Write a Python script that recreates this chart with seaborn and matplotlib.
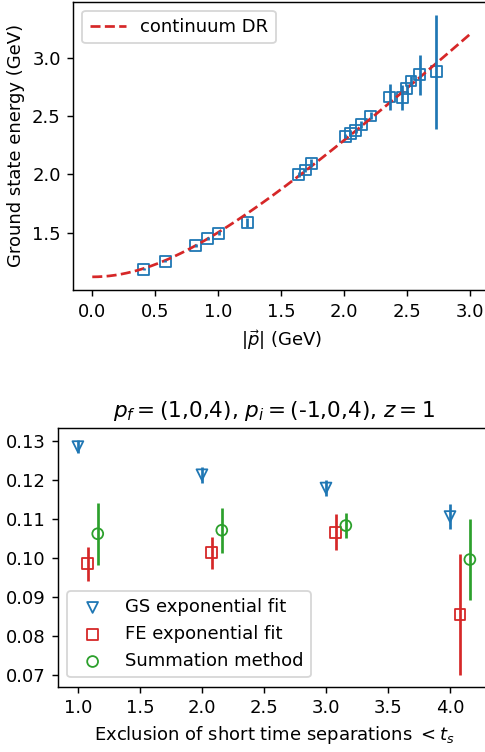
import numpy as np
import pandas as pd
import matplotlib
matplotlib.use("Agg")
import matplotlib.pyplot as plt
import seaborn as sns

# ---- ground-state energies vs. momentum ----
p_mom = [0.41, 0.58, 0.82, 0.917, 1.005, 1.23, 1.64, 1.69, 1.74, 2.01,
         2.05, 2.09, 2.135, 2.21, 2.36, 2.46, 2.495, 2.53, 2.60, 2.73]
e_gs = [1.186, 1.254, 1.388, 1.447, 1.495, 1.589, 2.000, 2.037, 2.094, 2.327,
        2.350, 2.376, 2.427, 2.500, 2.662, 2.659, 2.733, 2.800, 2.853, 2.878]
e_err = [0.010, 0.010, 0.015, 0.015, 0.020, 0.040, 0.020, 0.020, 0.035, 0.020,
         0.020, 0.025, 0.030, 0.030, 0.110, 0.105, 0.040, 0.040, 0.170, 0.490]

# continuum dispersion relation E(p) = sqrt(m^2 + p^2)
ground_mass = 1.12
p_range = (0.0, 3.0)

# ---- matrix element vs. excluded time separations ----
t_s = [1.0, 2.0, 3.0, 4.0]
gs_fit = [0.1285, 0.1213, 0.1179, 0.1106]
gs_err = [0.0017, 0.0021, 0.0020, 0.0033]
fe_fit = [0.0985, 0.1013, 0.1066, 0.0855]
fe_err = [0.0044, 0.0041, 0.0046, 0.0154]
sum_fit = [0.1062, 0.1071, 0.1083, 0.0996]
sum_err = [0.0080, 0.0058, 0.0031, 0.0104]

BLUE, RED, GREEN = "#1f77b4", "#d62728", "#2ca02c"

DPI = 130
fig = plt.figure(figsize=(485 / DPI, 752 / DPI), dpi=DPI)

# ---------------- top panel ----------------
ax1 = fig.add_axes([0.1513, 0.6144, 0.857, 0.3834])
p_grid = np.linspace(p_range[0], p_range[1], 200)
dr = pd.DataFrame({"p": p_grid, "E": np.sqrt(ground_mass**2 + p_grid**2)})
sns.lineplot(data=dr, x="p", y="E", ax=ax1, color=RED, linestyle="--",
             linewidth=1.5, label="continuum DR")

ax1.errorbar(p_mom, e_gs, yerr=e_err, fmt="none", ecolor=BLUE, elinewidth=1.5)
pts = pd.DataFrame({"p": p_mom, "E": e_gs})
sns.scatterplot(data=pts, x="p", y="E", ax=ax1, marker="s", s=36)
coll = ax1.collections[-1]
coll.set_facecolor("none")
coll.set_edgecolor(BLUE)
coll.set_linewidth(1.0)

ax1.set_xlabel(r"$|\vec{p}|$ (GeV)")
ax1.set_ylabel("Ground state energy (GeV)")
ax1.legend(loc="upper left")

# ---------------- bottom panel ----------------
ax2 = fig.add_axes([0.1202, 0.0871, 0.889, 0.3434])

series = [
    ("GS exponential fit", gs_fit, gs_err, 0.00, "v", BLUE),
    ("FE exponential fit", fe_fit, fe_err, 0.08, "s", RED),
    ("Summation method", sum_fit, sum_err, 0.16, "o", GREEN),
]
for label, vals, errs, shift, marker, color in series:
    xs = [t + shift for t in t_s]
    ax2.errorbar(xs, vals, yerr=errs, fmt="none", ecolor=color, elinewidth=1.5)
    df = pd.DataFrame({"t": xs, "v": vals})
    sns.scatterplot(data=df, x="t", y="v", ax=ax2, marker=marker, s=36,
                    label=label)
    c = ax2.collections[-1]
    c.set_facecolor("none")
    c.set_edgecolor(color)
    c.set_linewidth(1.0)

ax2.set_title(r"$p_f = $(1,0,4), $p_i = $(-1,0,4), $z = 1$")
ax2.set_xlabel(r"Exclusion of short time separations $<t_s$")
ax2.set_ylabel("")
ax2.legend(loc="lower left")

fig.savefig("out.png", dpi=DPI)
